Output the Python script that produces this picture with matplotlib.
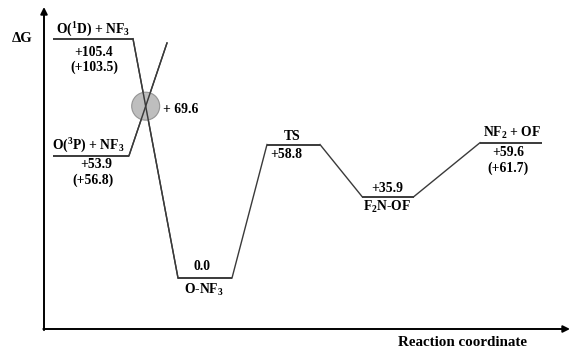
import matplotlib
matplotlib.use("Agg")
import matplotlib.pyplot as plt
from matplotlib.patches import Ellipse

plt.rcParams['font.family'] = ['Liberation Serif', 'DejaVu Serif']
plt.rcParams['font.weight'] = 'bold'
plt.rcParams['mathtext.fontset'] = 'custom'
plt.rcParams['mathtext.rm'] = 'Liberation Serif:bold'
plt.rcParams['mathtext.it'] = 'Liberation Serif:bold'
plt.rcParams['mathtext.bf'] = 'Liberation Serif:bold'

# ---- data ----
species = [r"O($^1$D) + NF$_3$", r"O($^3$P) + NF$_3$", r"O-NF$_3$", "TS", r"F$_2$N-OF", r"NF$_2$ + OF"]
energies = [105.4, 53.9, 0.0, 58.8, 35.9, 59.6]
alt_energies = [103.5, 56.8, None, None, None, 61.7]
crossing_energy = 69.6
energy_labels = ["+105.4", "+53.9", "0.0", "+58.8", "+35.9", "+59.6"]

# ---- layout (x extents of each level, in figure pixel units) ----
x_start = [53, 53, 178, 267, 362, 480]
x_end = [133, 129, 232, 320, 414, 542]

fig = plt.figure(figsize=(5.7, 3.5), dpi=100)
ax = fig.add_axes([0, 0, 1, 1])
ax.set_xlim(0, 570)
y0, k = 278.0, 2.27  # pixel of zero energy, pixels per unit
ax.set_ylim(-(350 - y0) / k, y0 / k)
ax.axis('off')

def E(py):
    return (y0 - py) / k

lc = '#3a3a3a'
# levels
for xs, xe, e in zip(x_start, x_end, energies):
    ax.plot([xs, xe], [e, e], color=lc, lw=1.4, solid_capstyle='butt')

# connectors
ax.plot([x_end[0], x_start[2]], [energies[0], energies[2]], color=lc, lw=1.0)
ax.plot([x_end[2], x_start[3]], [energies[2], energies[3]], color=lc, lw=1.0)
ax.plot([x_end[3], x_start[4]], [energies[3], energies[4]], color=lc, lw=1.0)
ax.plot([x_end[4], x_start[5]], [energies[4], energies[5]], color=lc, lw=1.0)
# triplet line extending through crossing
x_tip, e_tip = 167, E(43)
ax.plot([x_end[1], x_tip], [energies[1], e_tip], color=lc, lw=1.0)

# intersection of the two crossing lines
x1, y1, x2, y2 = x_end[0], energies[0], x_start[2], energies[2]
x3, y3, x4, y4 = x_end[1], energies[1], x_tip, e_tip
den = (x1 - x2) * (y3 - y4) - (y1 - y2) * (x3 - x4)
px = ((x1 * y2 - y1 * x2) * (x3 - x4) - (x1 - x2) * (x3 * y4 - y3 * x4)) / den
py = ((x1 * y2 - y1 * x2) * (y3 - y4) - (y1 - y2) * (x3 * y4 - y3 * x4)) / den
ax.add_patch(Ellipse((px, py), 28, 28 / k, facecolor='#b3b3b3', edgecolor='#888888',
                     lw=0.8, alpha=0.85, zorder=3))
ax.plot([x1, x2], [y1, y2], color=lc, lw=1.0, zorder=4)
ax.plot([x3, x4], [y3, y4], color=lc, lw=1.0, zorder=4)
ax.text(163, py - 1.5, "+ " + f"{crossing_energy:.1f}", fontsize=9.8, fontweight='bold',
        ha='left', va='center')

fs = 9.8
# species names and energies
name_pos = [(93, 30), (88, 146), (204, 290), (292, 136), (387, 207), (512, 133)]
val_pos = [(94, 52), (96, 164), (202, 267), (286, 155), (387, 189), (508, 153)]
alt_pos = [(94, 67), (93, 180), None, None, None, (508, 168)]
for i in range(len(species)):
    nx, ny = name_pos[i]
    ax.text(nx, E(ny), species[i], fontsize=fs, ha='center', va='center')
    vx, vy = val_pos[i]
    ax.text(vx, E(vy), energy_labels[i], fontsize=fs, ha='center', va='center')
    if alt_energies[i] is not None:
        ax_, ay_ = alt_pos[i]
        ax.text(ax_, E(ay_), f"(+{alt_energies[i]:.1f})", fontsize=fs, ha='center', va='center')

# axes arrows
axis_y = E(329)
ax.annotate('', xy=(44, E(7)), xytext=(44, axis_y - 0.5),
            arrowprops=dict(arrowstyle='-|>', color='black', lw=1.4,
                            mutation_scale=10, shrinkA=0, shrinkB=0))
ax.annotate('', xy=(570, axis_y), xytext=(43.3, axis_y),
            arrowprops=dict(arrowstyle='-|>', color='black', lw=1.4,
                            mutation_scale=10, shrinkA=0, shrinkB=0))
ax.text(22, E(38), "ΔG", fontsize=10.5, ha='center', va='center', fontweight='bold')
ax.text(462, E(343), "Reaction coordinate", fontsize=10.8, ha='center', va='center',
        fontweight='bold')

fig.savefig("out.png", dpi=100)
